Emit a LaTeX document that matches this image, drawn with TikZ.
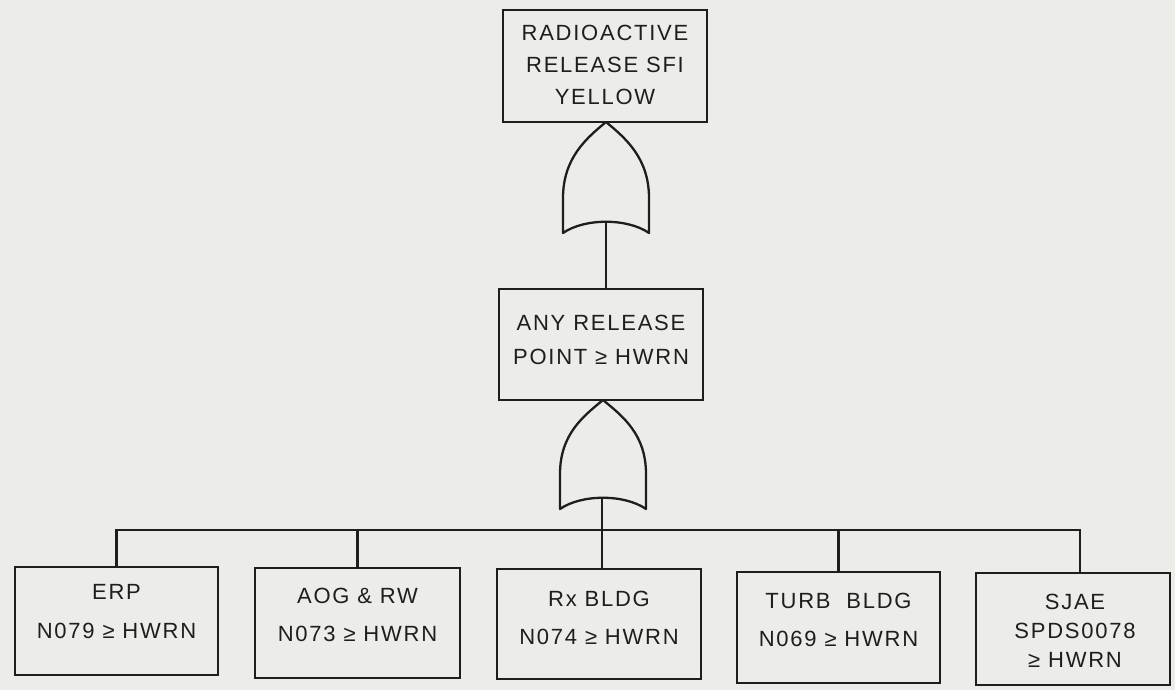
\documentclass[tikz,border=0pt]{standalone}
\usepackage{fontspec}
\setmainfont[LetterSpace=8]{Liberation Sans}
\usetikzlibrary{calc}
\definecolor{paper}{RGB}{236,236,233}
\definecolor{ink}{RGB}{30,30,30}
\tikzset{
  box/.style={draw=ink, line width=2.3pt, inner sep=0pt, fill=paper},
  lbl/.style={align=center, inner sep=0pt, text=ink},
  wire/.style={draw=ink, line width=2.1pt},
  gate/.style={draw=ink, line width=2.3pt, fill=paper, line join=round},
}
% OR gate with apex at (#1,#2), half width #3, bottom at #4, back-curve middle at #5
\newcommand{\orgate}[5]{%
  \draw[gate] (#1-#3,#4) -- (#1-#3,#4-35)
    .. controls (#1-#3,#4-75) and (#1-#3*0.45,#2+16) .. (#1,#2)
    .. controls (#1+#3*0.45,#2+16) and (#1+#3,#4-75) .. (#1+#3,#4-35)
    -- (#1+#3,#4)
    .. controls (#1+#3*0.5,#5-4) and (#1-#3*0.5,#5-4) .. cycle;}
\begin{document}
\begin{tikzpicture}[x=1pt,y=-1pt]
  \fill[paper] (0,0) rectangle (1175,690);
  \useasboundingbox (0,0) rectangle (1175,690);

  % top event and intermediate event
  \node[box, minimum width=204pt, minimum height=112pt] (top) at (605,66) {};
  \node[lbl, font=\fontsize{22}{32}\selectfont] (top-t) at (605,65)
    {RADIOACTIVE\\RELEASE SFI\\YELLOW};
  \node[box, minimum width=204pt, minimum height=111pt] (any) at (601,344.5) {};
  \node[lbl, font=\fontsize{22}{34}\selectfont] (any-t) at (601,340)
    {ANY RELEASE\\POINT ≥ HWRN};

  % OR gates
  \coordinate (g1-top) at (606,122);
  \coordinate (g1-out) at (606,222);
  \coordinate (g2-top) at (603,400);
  \coordinate (g2-out) at (602,498);
  \coordinate (bus) at (602,530);

  % basic events
  \node[box, minimum width=203pt, minimum height=108pt] (erp) at (116.5,621) {};
  \node[lbl, font=\fontsize{22}{39}\selectfont] (erp-t) at (116.5,612)
    {ERP\\N079 ≥ HWRN};
  \node[box, minimum width=205pt, minimum height=110pt] (aog) at (357.5,623) {};
  \node[lbl, font=\fontsize{22}{38}\selectfont] (aog-t) at (357.5,615)
    {AOG \& RW\\N073 ≥ HWRN};
  \node[box, minimum width=204pt, minimum height=110pt] (rx) at (599,624) {};
  \node[lbl, font=\fontsize{22}{38}\selectfont] (rx-t) at (599,618)
    {Rx BLDG\\N074 ≥ HWRN};
  \node[box, minimum width=203pt, minimum height=111pt] (turb) at (838.5,627.5) {};
  \node[lbl, font=\fontsize{22}{38}\selectfont] (turb-t) at (838.5,620)
    {TURB \ BLDG\\N069 ≥ HWRN};
  \node[box, minimum width=194pt, minimum height=112pt] (sjae) at (1073,629) {};
  \node[lbl, font=\fontsize{22}{29}\selectfont] (sjae-t) at (1075,631)
    {SJAE\\SPDS0078\\≥ HWRN};

  % connectors
  \draw[wire] (g1-out) -- (any.north -| g1-out);
  \draw[wire] (g2-out) -- (rx.north -| g2-out);
  \draw[wire] (erp.north) |- (bus) -| ([xshift=7pt]sjae.north);
  \draw[wire] (aog.north) -- (aog.north |- bus);
  \draw[wire] (turb.north) -- (turb.north |- bus);

  \orgate{606}{122}{43}{233}{222}
  \orgate{603}{400}{43}{509}{498}
\end{tikzpicture}
\end{document}
